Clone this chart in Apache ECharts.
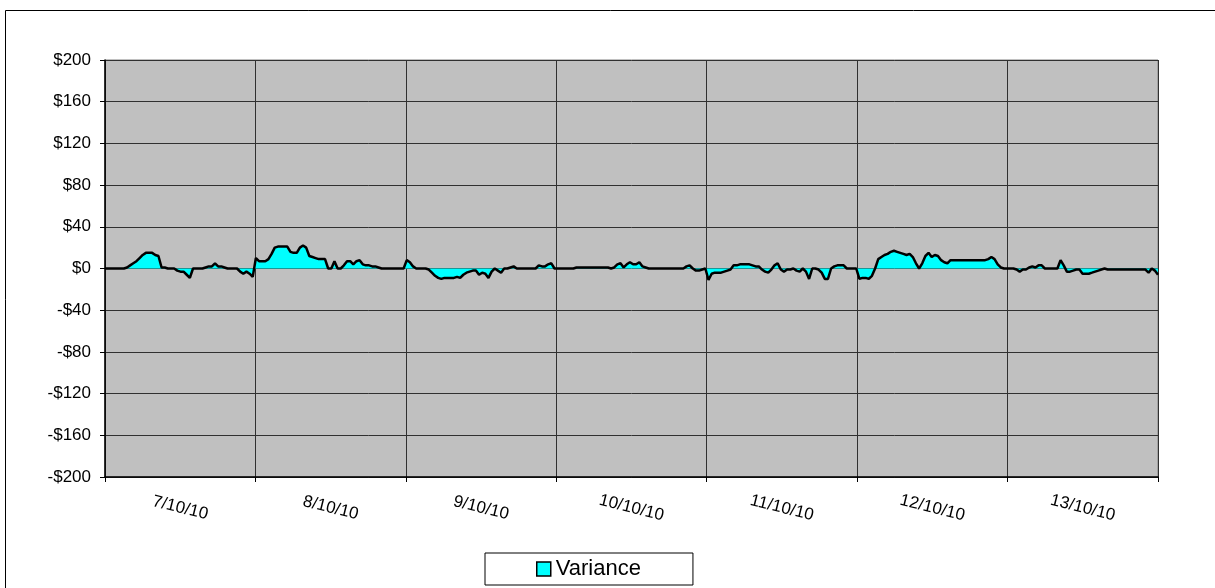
<!DOCTYPE html>
<html>
<head>
<meta charset="utf-8">
<script src="https://cdn.jsdelivr.net/npm/echarts@6/dist/echarts.min.js"></script>
<style>
  html, body { margin: 0; padding: 0; background: #fff; }
  #chart { width: 1215px; height: 588px; }
</style>
</head>
<body>
<div id="chart"></div>
<script>
// day labels shown under the plot
var days = ['7/10/10', '8/10/10', '9/10/10', '10/10/10', '11/10/10', '12/10/10', '13/10/10'];

// half-hourly variance ($), 48 readings per day
var day1 = [0, 0, 0, 0, 0, 0, 0, 1, 3, 5, 7, 10, 13, 15, 15, 15, 13, 12, 1, 1, 0, 0, 0, -2,
            -3, -3, -6, -9, 0, 0, 0, 0, 1, 2, 2, 5, 2, 2, 1, 0, 0, 0, 0, -3, -5, -3, -5, -8];
var day2 = [10, 7, 7, 7, 9, 14, 20, 21, 21, 21, 21, 16, 15, 15, 20, 22, 20, 12, 11, 10, 9, 9, 9, 0,
            0, 7, 0, 0, 3, 7, 7, 4, 7, 8, 4, 3, 3, 2, 2, 1, 0, 0, 0, 0, 0, 0, 0, 0];
var day3 = [8, 6, 2, 0, 0, 0, 0, -1, -4, -7, -9, -10, -9, -9, -9, -9, -8, -9, -6, -4, -3, -2, -2, -6,
            -4, -5, -9, -3, 0, -2, -4, 0, 0, 1, 2, 0, 0, 0, 0, 0, 0, 0, 3, 2, 2, 4, 5, 0];
var day4 = [0, 0, 0, 0, 0, 0, 1, 1, 1, 1, 1, 1, 1, 1, 1, 1, 1, 0, 1, 4, 5, 1, 4, 6,
            4, 4, 6, 2, 1, 0, 0, 0, 0, 0, 0, 0, 0, 0, 0, 0, 0, 2, 3, 0, -2, -2, -1, 0];
var day5 = [-11, -5, -4, -4, -4, -3, -2, -1, 3, 3, 4, 4, 4, 4, 3, 2, 2, -1, -3, -4, -1, 3, 5, -1,
            -3, -1, -1, 0, -2, -3, 0, -3, -10, 0, 0, -1, -4, -10, -10, 0, 2, 3, 3, 3, 0, 0, 0, 0];
var day6 = [-10, -9, -9, -10, -7, 0, 9, 11, 13, 14, 16, 17, 16, 15, 14, 13, 14, 11, 5, 0, 5, 12, 15, 11,
            13, 12, 8, 6, 5, 8, 8, 8, 8, 8, 8, 8, 8, 8, 8, 8, 8, 9, 11, 9, 4, 1, 0, 0];
var day7 = [0, 0, -1, -3, -1, -1, 1, 2, 1, 3, 3, 0, 0, 0, 0, 0, 8, 3, -3, -3, -2, -1, -1, -5,
            -5, -5, -4, -3, -2, -1, 0, -1, -1, -1, -1, -1, -1, -1, -1, -1, -1, -1, -1, -1, -4, 0, -2, -6];

var variance = [].concat(day1, day2, day3, day4, day5, day6, day7);

// one category per half hour
var slots = [];
for (var d = 0; d < days.length; d++) {
    for (var h = 0; h < 48; h++) {
        var hh = Math.floor(h / 2), mm = h % 2 ? '30' : '00';
        slots.push(days[d] + ' ' + (hh < 10 ? '0' + hh : hh) + ':' + mm);
    }
}

var chart = echarts.init(document.getElementById('chart'));
chart.setOption({
    animation: false,
    textStyle: { fontFamily: 'Liberation Sans, Arial, sans-serif' },
    graphic: [{
        type: 'rect',
        shape: { x: 5.5, y: 10.5, width: 1215, height: 600 },
        style: { fill: 'none', stroke: '#000', lineWidth: 1 },
        silent: true
    }],
    grid: {
        left: 105, right: 57, top: 60, bottom: 111,
        show: true,
        backgroundColor: '#c0c0c0',
        borderColor: '#808080',
        borderWidth: 1
    },
    legend: {
        data: [{ name: 'Variance', icon: 'rect',
                 itemStyle: { color: '#00ffff', borderColor: '#000', borderWidth: 1.5 } }],
        left: 485, top: 553,
        padding: [5, 52, 5, 51],
        itemWidth: 14, itemHeight: 14, itemGap: 4,
        borderColor: '#000', borderWidth: 1,
        textStyle: { fontSize: 22, color: '#000' }
    },
    xAxis: [{
        type: 'category',
        data: slots,
        boundaryGap: false,
        show: false,
        axisLine: { onZero: false }
    }, {
        type: 'category',
        data: days,
        position: 'bottom',
        boundaryGap: true,
        axisLine: { onZero: false, lineStyle: { color: '#000', width: 1.5 } },
        axisTick: { show: true, length: 5, lineStyle: { color: '#000' } },
        splitLine: { show: true, lineStyle: { color: '#303030', width: 1 } },
        axisLabel: {
            rotate: -14, align: 'center', verticalAlign: 'middle', margin: 31,
            fontSize: 17, color: '#000'
        }
    }],
    yAxis: {
        type: 'value',
        min: -200, max: 200, interval: 40,
        axisLine: { show: true, lineStyle: { color: '#000', width: 1.5 } },
        axisTick: { show: true, length: 5, lineStyle: { color: '#000' } },
        splitLine: { show: true, lineStyle: { color: '#303030', width: 1 } },
        axisLabel: {
            fontSize: 17, color: '#000', margin: 14,
            formatter: function (v) { return v < 0 ? '-$' + (-v) : '$' + v; }
        }
    },
    series: [{
        name: 'Variance',
        type: 'line',
        xAxisIndex: 0,
        data: variance,
        symbol: 'none',
        lineStyle: { color: '#000', width: 2.5 },
        itemStyle: { color: '#00ffff' },
        areaStyle: { color: '#00ffff', opacity: 1 }
    }]
});
</script>
</body>
</html>
